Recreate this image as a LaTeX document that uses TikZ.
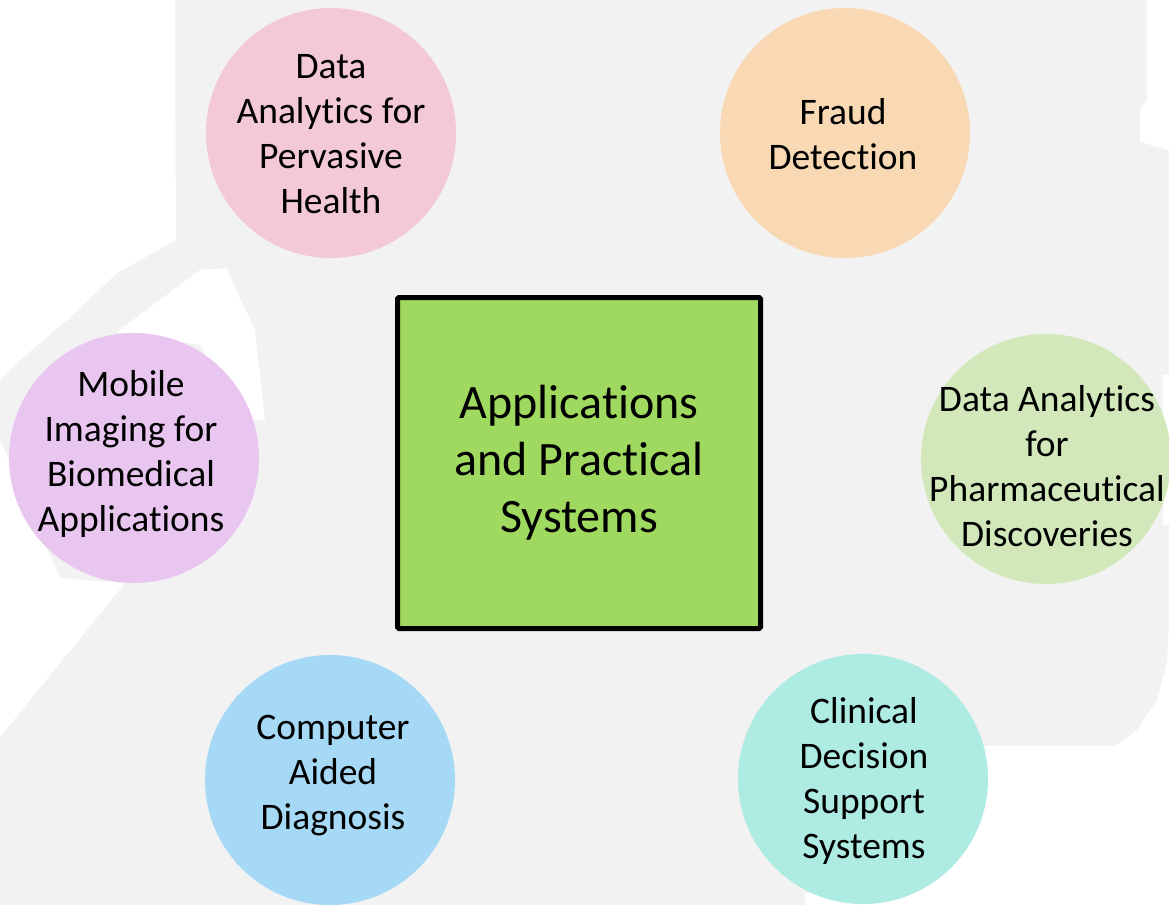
\documentclass[tikz,border=0pt]{standalone}
\usepackage{fontspec}
\setmainfont{Carlito}[Ligatures={NoCommon}]
\definecolor{bggray}{HTML}{F2F2F2}
\definecolor{cpink}{HTML}{F2C9D5}
\definecolor{corange}{HTML}{F8D9B4}
\definecolor{cpurple}{HTML}{E8C6F0}
\definecolor{cgreen}{HTML}{D2E8BA}
\definecolor{cblue}{HTML}{A6D9F5}
\definecolor{cteal}{HTML}{AEEBE3}
\definecolor{boxgreen}{HTML}{A0D95F}
\tikzset{
  topic/.style={circle, minimum size=250pt, inner sep=0pt, draw=none},
  topictext/.style={align=center, inner sep=0pt, font=\fontsize{37.5}{45}\selectfont},
  hub/.style={draw=black, line width=5pt, rounded corners=1.5pt, fill=boxgreen,
    minimum width=363pt, minimum height=331pt, inner sep=0pt,
    align=center, font=\fontsize{48}{57}\selectfont}
}
\begin{document}
\begin{tikzpicture}[x=1pt,y=-1pt]
\useasboundingbox (0,0) rectangle (1169,905);
\fill[bggray] (0,0) rectangle (1169,905);
% white background patches
\fill[white] (0,0) -- (175,0) -- (176,240) -- (117,273) -- (67,320) -- (20,360) -- (0,380) -- cycle;
\fill[white] (117,332) -- (200,270) -- (227,268) -- (236,290) -- (255,330) -- (265,420) -- (240,420) -- (200,345) -- cycle;
\fill[white] (0,440) -- (60,578) -- (125,583) -- (0,737) -- cycle;
\fill[white] (1147,0) -- (1169,0) -- (1169,150) -- (1140,142) -- (1140,110) -- (1147,100) -- cycle;
\fill[white] (1163,375) rectangle (1169,525);
\fill[white] (900,746) -- (1115,746) -- (1137,730) -- (1157,700) -- (1167,663) -- (1169,620) -- (1169,905) -- (805,905) -- (805,893) -- (900,893) -- cycle;

% circles
\node[topic, fill=cpink]   (pink)   at (331,133) {};
\node[topic, fill=corange] (orange) at (845,133) {};
\node[topic, fill=cpurple] (purple) at (134,458) {};
\node[topic, fill=cgreen]  (green)  at (1046,459) {};
\node[topic, fill=cblue]   (blue)   at (330,780) {};
\node[topic, fill=cteal]   (teal)   at (863,779) {};

% texts
\node[topictext] (pinkt)   at (331,134)   {Data\\Analytics for\\Pervasive\\Health};
\node[topictext] (oranget) at (843,134)   {Fraud\\Detection};
\node[topictext] (purplet) at (131,454)   {Mobile\\Imaging for\\Biomedical\\Applications};
\node[topictext] (greent)  at (1047,466)  {Data Analytics\\for\\Pharmaceutical\\Discoveries};
\node[topictext] (bluet)   at (333,776)   {Computer\\Aided\\Diagnosis};
\node[topictext] (tealt)   at (864,781)   {Clinical\\Decision\\Support\\Systems};

% hub
\node[hub] (hub) at (579,463) {Applications\\and Practical\\Systems};
\end{tikzpicture}
\end{document}
